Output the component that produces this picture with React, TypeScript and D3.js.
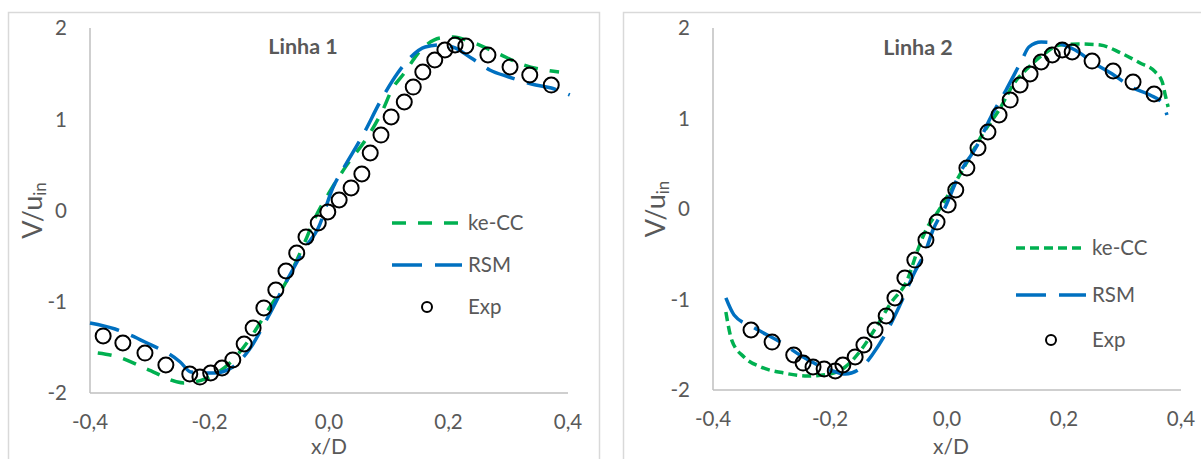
import React from "react";
import * as d3 from "d3";

// Velocity profiles V/u_in along x/D for two measurement lines.
const xTicks = [-0.4, -0.2, 0, 0.2, 0.4];
const xTickLabels = ["-0,4", "-0,2", "0,0", "0,2", "0,4"];
const yTicks = [-2, -1, 0, 1, 2];
const yTickLabels = ["-2", "-1", "0", "1", "2"];
const seriesNames = ["ke-CC", "RSM", "Exp"];
const panelTitles = ["Linha 1", "Linha 2"];

type Pt = [number, number];

const linha1Exp: Pt[] = [
  [-0.378, -1.375], [-0.345, -1.452], [-0.308, -1.562], [-0.273, -1.693],
  [-0.233, -1.792], [-0.216, -1.825], [-0.198, -1.781], [-0.179, -1.726],
  [-0.161, -1.638], [-0.142, -1.463], [-0.127, -1.288], [-0.109, -1.068],
  [-0.089, -0.871], [-0.072, -0.663], [-0.054, -0.466], [-0.0385, -0.29],
  [-0.018, -0.137], [-0.002, -0.016], [0.017, 0.115], [0.037, 0.247],
  [0.055, 0.4], [0.069, 0.63], [0.087, 0.827], [0.104, 1.025],
  [0.126, 1.189], [0.141, 1.353], [0.157, 1.518], [0.177, 1.649],
  [0.194, 1.759], [0.211, 1.814], [0.229, 1.803], [0.266, 1.704],
  [0.303, 1.573], [0.336, 1.485], [0.372, 1.375],
];

const linha1KeCC: Pt[] = [
  [-0.387, -1.562], [-0.358, -1.595], [-0.301, -1.748], [-0.243, -1.89],
  [-0.204, -1.836], [-0.166, -1.671], [-0.134, -1.419], [-0.102, -1.09],
  [-0.07, -0.762], [-0.039, -0.323], [-0.025, -0.104], [0.0, 0.192],
  [0.03, 0.5], [0.064, 0.8], [0.09, 1.101], [0.105, 1.321],
  [0.126, 1.507], [0.154, 1.759], [0.186, 1.89], [0.208, 1.901],
  [0.238, 1.847], [0.281, 1.726], [0.326, 1.595], [0.385, 1.518],
];

const linha1RSM: Pt[] = [
  [-0.4, -1.233], [-0.358, -1.299], [-0.308, -1.441], [-0.249, -1.66],
  [-0.231, -1.77], [-0.192, -1.781], [-0.161, -1.715], [-0.134, -1.529],
  [-0.102, -1.167], [-0.07, -0.762], [-0.039, -0.4], [-0.018, -0.192],
  [0.007, 0.258], [0.025, 0.47], [0.055, 0.805], [0.09, 1.244],
  [0.115, 1.507], [0.137, 1.682], [0.161, 1.792], [0.186, 1.814],
  [0.211, 1.781], [0.238, 1.671], [0.269, 1.54], [0.301, 1.463],
  [0.346, 1.375], [0.372, 1.342], [0.403, 1.266],
];

const linha2Exp: Pt[] = [
  [-0.335, -1.337], [-0.299, -1.47], [-0.262, -1.613], [-0.246, -1.702],
  [-0.229, -1.746], [-0.21, -1.768], [-0.191, -1.79], [-0.178, -1.724],
  [-0.157, -1.635], [-0.142, -1.503], [-0.123, -1.337], [-0.104, -1.182],
  [-0.089, -0.983], [-0.072, -0.762], [-0.055, -0.564], [-0.036, -0.343],
  [-0.017, -0.144], [0.002, 0.044], [0.015, 0.21], [0.034, 0.453],
  [0.053, 0.674], [0.07, 0.851], [0.089, 1.039], [0.108, 1.204],
  [0.125, 1.37], [0.142, 1.492], [0.161, 1.624], [0.18, 1.702],
  [0.197, 1.757], [0.214, 1.735], [0.248, 1.635], [0.284, 1.525],
  [0.318, 1.403], [0.354, 1.271],
];

const linha2KeCC: Pt[] = [
  [-0.378, -1.138], [-0.368, -1.448], [-0.347, -1.635], [-0.318, -1.746],
  [-0.279, -1.812], [-0.239, -1.845], [-0.2, -1.823], [-0.174, -1.746],
  [-0.147, -1.558], [-0.121, -1.304], [-0.096, -1.039], [-0.068, -0.785],
  [-0.05, -0.453], [-0.036, -0.232], [-0.017, -0.044], [0.01, 0.243],
  [0.036, 0.541], [0.062, 0.84], [0.089, 1.094], [0.115, 1.392],
  [0.14, 1.569], [0.168, 1.724], [0.193, 1.812], [0.226, 1.823],
  [0.262, 1.812], [0.297, 1.724], [0.33, 1.613], [0.356, 1.514],
  [0.368, 1.403], [0.373, 1.26], [0.378, 1.127],
];

const linha2RSM: Pt[] = [
  [-0.378, -0.983], [-0.364, -1.171], [-0.332, -1.304], [-0.285, -1.47],
  [-0.246, -1.635], [-0.2, -1.779], [-0.174, -1.823], [-0.147, -1.757],
  [-0.128, -1.613], [-0.108, -1.414], [-0.082, -1.083], [-0.056, -0.707],
  [-0.036, -0.453], [-0.024, -0.232], [-0.003, 0.022], [0.022, 0.398],
  [0.05, 0.685], [0.075, 1.017], [0.101, 1.315], [0.128, 1.646],
  [0.14, 1.79], [0.161, 1.845], [0.186, 1.834], [0.219, 1.757],
  [0.251, 1.613], [0.285, 1.481], [0.318, 1.337], [0.347, 1.26],
  [0.368, 1.171], [0.376, 1.039],
];

const GREEN = "#00B050";
const BLUE = "#0070C0";
const TEXT = "#595959";
const AXIS = "#BFBFBF";
const BORDER = "#D9D9D9";
const FONT = "Lato, 'Open Sans', sans-serif";
const TICK_SIZE = 20.5;
const X_TITLE_BASELINE = 454;

type PanelCfg = {
  title: string;
  frame: { x: number; y: number; w: number; h: number };
  xRange: [number, number];
  yRange: [number, number];
  titlePos: [number, number];
  yTitleX: number;
  xTitleX: number;
  keDash: string;
  legendX: number;
  legendY: number[];
  exp: Pt[];
  ke: Pt[];
  rsm: Pt[];
};

const panels: PanelCfg[] = [
  {
    title: panelTitles[0],
    frame: { x: 8.5, y: 12.5, w: 591, h: 470 },
    xRange: [90, 568],
    yRange: [393, 28],
    titlePos: [303, 54],
    yTitleX: 42,
    xTitleX: 329,
    keDash: "14,12",
    legendX: 392,
    legendY: [223, 265, 307],
    exp: linha1Exp,
    ke: linha1KeCC,
    rsm: linha1RSM,
  },
  {
    title: panelTitles[1],
    frame: { x: 623.5, y: 12.5, w: 610, h: 470 },
    xRange: [713, 1181],
    yRange: [390, 28],
    titlePos: [918, 55],
    yTitleX: 665,
    xTitleX: 951,
    keDash: "9,5",
    legendX: 1016,
    legendY: [248, 295, 340],
    exp: linha2Exp,
    ke: linha2KeCC,
    rsm: linha2RSM,
  },
];

function Panel({ cfg }: { cfg: PanelCfg }) {
  const x = d3.scaleLinear().domain([-0.4, 0.4]).range(cfg.xRange);
  const y = d3.scaleLinear().domain([-2, 2]).range(cfg.yRange);
  const line = d3
    .line<Pt>()
    .x((d) => x(d[0]))
    .y((d) => y(d[1]))
    .curve(d3.curveMonotoneX);
  const [x0, x1] = cfg.xRange;
  const yBottom = y(-2);
  const yTop = y(2);
  const yMid = (yBottom + yTop) / 2;
  const lx = cfg.legendX;
  const lw = 70;

  return (
    <g>
      <rect
        x={cfg.frame.x}
        y={cfg.frame.y}
        width={cfg.frame.w}
        height={cfg.frame.h}
        fill="#fff"
        stroke={BORDER}
        strokeWidth={1.5}
      />
      {/* axes */}
      <line x1={x0} x2={x0} y1={yTop} y2={yBottom} stroke={AXIS} strokeWidth={1.5} />
      <line x1={x0} x2={x1} y1={yBottom} y2={yBottom} stroke={AXIS} strokeWidth={1.5} />
      {yTicks.map((t, i) => (
        <text
          key={"y" + t}
          x={x0 - 23}
          y={y(t)}
          dy="0.36em"
          textAnchor="end"
          fontSize={TICK_SIZE}
          fill={TEXT}
          fontFamily={FONT}
        >
          {yTickLabels[i]}
        </text>
      ))}
      {xTicks.map((t, i) => (
        <text
          key={"x" + t}
          x={x(t)}
          y={yBottom + 35.5}
          textAnchor="middle"
          fontSize={TICK_SIZE}
          fill={TEXT}
          fontFamily={FONT}
        >
          {xTickLabels[i]}
        </text>
      ))}
      <text
        x={cfg.xTitleX}
        y={X_TITLE_BASELINE}
        textAnchor="middle"
        fontSize={21}
        fill={TEXT}
        fontFamily={FONT}
      >
        x/D
      </text>
      <text
        transform={`translate(${cfg.yTitleX},${yMid}) rotate(-90)`}
        textAnchor="middle"
        fontSize={27}
        fill={TEXT}
        fontFamily={FONT}
      >
        V/u
        <tspan fontSize={17} dy={4}>
          in
        </tspan>
      </text>
      <text
        x={cfg.titlePos[0]}
        y={cfg.titlePos[1]}
        textAnchor="middle"
        fontSize={21.5}
        fontWeight="bold"
        fill={TEXT}
        fontFamily={FONT}
      >
        {cfg.title}
      </text>

      {/* simulated profiles */}
      <path d={line(cfg.ke) || ""} fill="none" stroke={GREEN} strokeWidth={3.5} strokeDasharray={cfg.keDash} />
      <path d={line(cfg.rsm) || ""} fill="none" stroke={BLUE} strokeWidth={3.5} strokeDasharray="30,13" />

      {/* measurements */}
      {cfg.exp.map((d, i) => (
        <circle key={i} cx={x(d[0])} cy={y(d[1])} r={7.5} fill="none" stroke="#000" strokeWidth={2} />
      ))}

      {/* legend */}
      <line x1={lx} x2={lx + lw} y1={cfg.legendY[0]} y2={cfg.legendY[0]} stroke={GREEN} strokeWidth={3.5} strokeDasharray={cfg.keDash} />
      <line x1={lx} x2={lx + lw} y1={cfg.legendY[1]} y2={cfg.legendY[1]} stroke={BLUE} strokeWidth={3.5} strokeDasharray="30,13" />
      <circle cx={lx + lw / 2} cy={cfg.legendY[2]} r={5} fill="#fff" stroke="#000" strokeWidth={2} />
      {seriesNames.map((n, i) => (
        <text
          key={n}
          x={lx + lw + 6}
          y={cfg.legendY[i]}
          dy="0.36em"
          fontSize={TICK_SIZE}
          fill={TEXT}
          fontFamily={FONT}
        >
          {n}
        </text>
      ))}
    </g>
  );
}

export default function App() {
  return (
    <svg
      width={1201}
      height={459}
      style={{ position: "absolute", left: 0, top: 0, background: "#fff" }}
    >
      {panels.map((p) => (
        <Panel key={p.title} cfg={p} />
      ))}
    </svg>
  );
}
